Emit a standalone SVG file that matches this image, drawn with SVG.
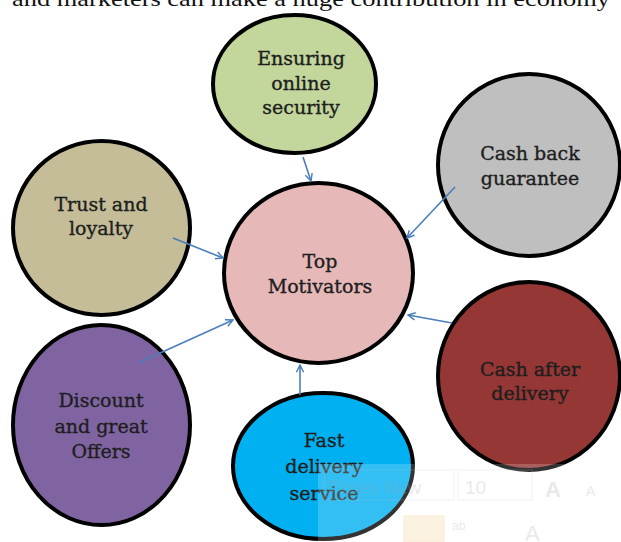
<svg xmlns="http://www.w3.org/2000/svg" width="621" height="542" viewBox="0 0 621 542">
  <style>
    .node { stroke: #000; stroke-width: 4; }
    .lbl { font-family: "DejaVu Serif", "Liberation Serif", serif; font-size: 19px; fill: #1e1e1e; stroke: #1e1e1e; stroke-width: 0.35; text-anchor: middle; }
    .conn line { stroke: #4A7EBB; stroke-width: 1.6; marker-end: url(#arrow); }
    .tb { font-family: "Liberation Sans", sans-serif; fill: #9aa0a8; }
  </style>
  <defs>
    <marker id="arrow" viewBox="0 0 10 10" refX="9" refY="5" markerWidth="9" markerHeight="9" orient="auto" markerUnits="userSpaceOnUse">
      <path d="M1,1 L9,5 L1,9" fill="none" stroke="#4A7EBB" stroke-width="1.6"/>
    </marker>
  </defs>

  <rect width="621" height="542" fill="#fff"/>

  <!-- running text line above the figure -->
  <text x="12" y="6" font-family="Liberation Serif, serif" font-size="21" fill="#111" textLength="598" lengthAdjust="spacingAndGlyphs">and marketers can make a huge contribution in economy</text>

  <g id="node-top-motivators">
    <ellipse class="node" cx="318.5" cy="273" rx="94.5" ry="90" fill="#E6B8B7"/>
    <text class="lbl" x="320" y="268">Top</text>
    <text class="lbl" x="320" y="293">Motivators</text>
  </g>

  <g id="node-online-security">
    <ellipse class="node" cx="294.5" cy="84" rx="81.5" ry="69" fill="#C3D69B"/>
    <text class="lbl" x="301" y="65">Ensuring</text>
    <text class="lbl" x="301" y="90">online</text>
    <text class="lbl" x="301" y="114">security</text>
  </g>

  <g id="node-cash-back">
    <ellipse class="node" cx="529" cy="165" rx="91" ry="91" fill="#BFBFBF"/>
    <text class="lbl" x="530" y="160">Cash back</text>
    <text class="lbl" x="530" y="185">guarantee</text>
  </g>

  <g id="node-trust">
    <ellipse class="node" cx="101.5" cy="228" rx="88.5" ry="87" fill="#C4BD97"/>
    <text class="lbl" x="101" y="211">Trust and</text>
    <text class="lbl" x="101" y="235">loyalty</text>
  </g>

  <g id="node-cash-after">
    <ellipse class="node" cx="529" cy="376" rx="91" ry="94" fill="#953735"/>
    <text class="lbl" x="530" y="376">Cash after</text>
    <text class="lbl" x="530" y="400">delivery</text>
  </g>

  <g id="node-discount">
    <ellipse class="node" cx="101.5" cy="425" rx="88.5" ry="100" fill="#8064A2"/>
    <text class="lbl" x="101" y="407">Discount</text>
    <text class="lbl" x="101" y="433">and great</text>
    <text class="lbl" x="101" y="458">Offers</text>
  </g>

  <g id="node-fast-delivery">
    <ellipse class="node" cx="323" cy="466" rx="90" ry="73" fill="#00B0F0"/>
    <text class="lbl" x="324" y="447">Fast</text>
    <text class="lbl" x="324" y="473">delivery</text>
    <text class="lbl" x="324" y="500">service</text>
  </g>

  <g id="connectors" class="conn">
    <line x1="303" y1="157" x2="311" y2="181"/>
    <line x1="455" y1="187" x2="407" y2="238"/>
    <line x1="173" y1="238" x2="223" y2="258"/>
    <line x1="138" y1="363" x2="233" y2="320"/>
    <line x1="300" y1="395" x2="300" y2="365"/>
    <line x1="452" y1="323" x2="408" y2="315"/>
  </g>

  <!-- faint floating formatting toolbar laid over the lower right corner -->
  <g id="toolbar">
    <rect x="318" y="464" width="303" height="78" fill="#ffffff" opacity="0.2"/>
    <g opacity="0.22">
      <rect x="324" y="470" width="130" height="30" fill="none" stroke="#b8c2d0"/>
      <rect x="458" y="470" width="74" height="30" fill="none" stroke="#b8c2d0"/>
      <text class="tb" x="327" y="494" font-size="19">Times New</text>
      <text class="tb" x="465" y="494" font-size="19">10</text>
      <text class="tb" x="545" y="497" font-size="22" font-weight="bold">A</text>
      <text class="tb" x="586" y="496" font-size="14">A</text>
      <rect x="404" y="516" width="40" height="26" fill="#f6c97a" stroke="#e8a94a"/>
      <text class="tb" x="452" y="530" font-size="12">ab</text>
      <text class="tb" x="525" y="541" font-size="22">A</text>
    </g>
  </g>
</svg>
